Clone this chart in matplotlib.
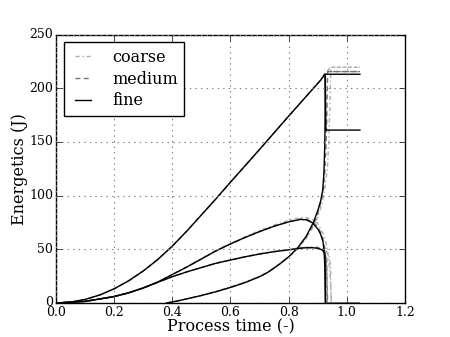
import matplotlib
matplotlib.use('Agg')
import matplotlib.pyplot as plt

# --- donnees (temps adimensionnel, energie en J) ---
# courbe 1 : energie totale
t_tot_fine = [0, 0.05, 0.1, 0.15, 0.2, 0.25, 0.3, 0.35, 0.4, 0.45, 0.5, 0.55, 0.6, 0.7, 0.8, 0.9, 0.91, 0.918, 0.922, 0.926, 1.045]
e_tot_fine = [0, 0.8, 3.3, 7.4, 13.2, 20.7, 29.8, 40.5, 53, 67, 82, 97, 112.5, 143, 174, 204.5, 207.5, 210.5, 212.5, 213, 213]
t_tot_medium = [0, 0.05, 0.1, 0.15, 0.2, 0.25, 0.3, 0.35, 0.4, 0.45, 0.5, 0.55, 0.6, 0.7, 0.8, 0.9, 0.91, 0.918, 0.924, 0.932, 1.045]
e_tot_medium = [0, 0.8, 3.3, 7.4, 13.2, 20.7, 29.8, 40.5, 53, 67, 82, 97, 112.5, 143, 174, 204.5, 207.5, 210.5, 213, 215.5, 215.5]
t_tot_coarse = [0, 0.05, 0.1, 0.15, 0.2, 0.25, 0.3, 0.35, 0.4, 0.45, 0.5, 0.55, 0.6, 0.7, 0.8, 0.9, 0.91, 0.918, 0.926, 0.944, 1.045]
e_tot_coarse = [0, 0.8, 3.3, 7.4, 13.2, 20.7, 29.8, 40.5, 53, 67, 82, 97, 112.5, 143, 174, 204.5, 207.5, 210.5, 214, 219.5, 219.5]

# courbe 2 : bosse haute (pic ~78 J)
t_c2_fine = [0, 0.1, 0.2, 0.25, 0.3, 0.35, 0.4, 0.45, 0.5, 0.55, 0.6, 0.65, 0.7, 0.75, 0.8, 0.84, 0.86, 0.88, 0.9, 0.91, 0.918, 0.922, 0.925, 0.927]
e_c2_fine = [0, 1.5, 6, 9.5, 14, 19.5, 26.5, 33.5, 41, 48.5, 55, 61, 66.5, 71.5, 75.5, 77.8, 77.5, 75, 69, 64, 57, 48, 30, 0]
t_c2_medium = [0, 0.1, 0.2, 0.25, 0.3, 0.35, 0.4, 0.45, 0.5, 0.55, 0.6, 0.65, 0.7, 0.75, 0.8, 0.84, 0.86, 0.88, 0.9, 0.915, 0.924, 0.929, 0.932, 0.934, 1.045]
e_c2_medium = [0, 1.5, 6, 9.5, 14, 19.5, 26.5, 33.5, 41, 48.5, 55, 61, 66.5, 71.5, 75.8, 78.2, 78, 76, 71, 63, 52, 38, 18, 0, 0]
t_c2_coarse = [0, 0.1, 0.2, 0.25, 0.3, 0.35, 0.4, 0.45, 0.5, 0.55, 0.6, 0.65, 0.7, 0.75, 0.8, 0.84, 0.86, 0.88, 0.9, 0.92, 0.932, 0.939, 0.944, 0.947, 1.045]
e_c2_coarse = [0, 1.5, 6, 9.5, 14, 19.5, 26.8, 34, 41.5, 49, 55.5, 61.5, 67.5, 72.5, 77, 79.5, 79.5, 78, 74, 64, 52, 38, 18, 0, 0]

# courbe 3 : bosse basse (pic ~51 J)
t_c3_fine = [0, 0.1, 0.2, 0.25, 0.3, 0.35, 0.4, 0.45, 0.5, 0.55, 0.6, 0.65, 0.7, 0.75, 0.8, 0.85, 0.88, 0.9, 0.915, 0.922, 0.925, 0.926]
e_c3_fine = [0, 1.5, 6, 9.5, 14, 19.3, 24.5, 29, 33, 37, 40, 43, 45.6, 47.8, 49.5, 51.3, 51.5, 51, 49.5, 47, 44, 0]
t_c3_medium = [0, 0.1, 0.2, 0.25, 0.3, 0.35, 0.4, 0.45, 0.5, 0.55, 0.6, 0.65, 0.7, 0.75, 0.8, 0.85, 0.88, 0.9, 0.92, 0.928, 0.931, 0.932, 1.045]
e_c3_medium = [0, 1.5, 6, 9.5, 14, 19.3, 24.5, 29, 33, 37, 40, 43, 45.6, 47.8, 49.6, 51.4, 51.7, 51.3, 49.5, 46, 40, 0, 0]
t_c3_coarse = [0, 0.1, 0.2, 0.25, 0.3, 0.35, 0.4, 0.45, 0.5, 0.55, 0.6, 0.65, 0.7, 0.75, 0.8, 0.85, 0.88, 0.9, 0.925, 0.938, 0.944, 0.946, 1.045]
e_c3_coarse = [0, 1.5, 6, 9.5, 14, 19.3, 24.5, 29, 33, 37, 40.2, 43.2, 45.8, 48, 50, 51.8, 52.2, 51.8, 50, 45, 35, 0, 0]

# courbe 4 : energie qui monte a partir de t~0.38
t_c4_fine = [0.38, 0.42, 0.5, 0.55, 0.6, 0.65, 0.7, 0.725, 0.75, 0.775, 0.8, 0.83, 0.86, 0.885, 0.9, 0.91, 0.917, 0.921, 0.924, 0.925, 0.926, 0.928, 1.045]
e_c4_fine = [0, 2, 7, 10.5, 14.5, 19, 24.5, 28, 32.5, 37.5, 43, 51, 62, 75, 86, 95, 105, 120, 145, 165, 213, 161, 161]
t_c4_medium = [0.38, 0.42, 0.5, 0.55, 0.6, 0.65, 0.7, 0.725, 0.75, 0.775, 0.8, 0.83, 0.86, 0.885, 0.9, 0.912, 0.92, 0.925, 0.929, 0.932, 0.934, 1.045]
e_c4_medium = [0, 2, 7, 10.5, 14.5, 19, 24.5, 28, 32.5, 37.5, 43, 50.5, 61, 73, 83, 95, 108, 125, 150, 185, 215.5, 215.5]
t_c4_coarse = [0.38, 0.42, 0.5, 0.55, 0.6, 0.65, 0.7, 0.725, 0.75, 0.775, 0.8, 0.83, 0.86, 0.885, 0.9, 0.915, 0.925, 0.933, 0.938, 0.942, 0.945, 1.045]
e_c4_coarse = [0, 2, 7, 10.8, 15, 19.5, 25, 28.5, 33, 38, 43, 50, 60, 71, 80, 93, 108, 125, 150, 185, 219.5, 219.5]

series = [
    ('coarse', dict(color='0.68', linestyle=(0, (3, 2, 1, 2))),
     [(t_tot_coarse, e_tot_coarse), (t_c2_coarse, e_c2_coarse),
      (t_c3_coarse, e_c3_coarse), (t_c4_coarse, e_c4_coarse)]),
    ('medium', dict(color='0.45', linestyle=(0, (3.5, 2.5))),
     [(t_tot_medium, e_tot_medium), (t_c2_medium, e_c2_medium),
      (t_c3_medium, e_c3_medium), (t_c4_medium, e_c4_medium)]),
    ('fine', dict(color='black', linestyle='-'),
     [(t_tot_fine, e_tot_fine), (t_c2_fine, e_c2_fine),
      (t_c3_fine, e_c3_fine), (t_c4_fine, e_c4_fine)]),
]

plt.style.use('classic')
plt.rcParams['font.family'] = ['DejaVu Serif']

fig = plt.figure(figsize=(4.5, 3.37), dpi=100)
ax = fig.add_axes([0.1244, 0.1009, 0.7756, 0.7967])

for name, style, curves in series:
    for i, (t, e) in enumerate(curves):
        ax.plot(t, e, linewidth=1.0, label=name if i == 0 else None, **style)

ax.set_xlim(0, 1.2)
ax.set_ylim(0, 250)
ax.set_xticks([0.0, 0.2, 0.4, 0.6, 0.8, 1.0, 1.2])
ax.set_yticks([0, 50, 100, 150, 200, 250])
ax.tick_params(labelsize=9, pad=2)
ax.grid(True, color='0.5', linestyle=':', linewidth=0.8)
ax.set_xlabel('Process time (-)', fontsize=11.5, labelpad=0)
ax.set_ylabel('Energetics (J)', fontsize=11.5, labelpad=1)
ax.legend(loc='upper left', fontsize=11.5, frameon=True, handlelength=1.6,
          handletextpad=1.0, labelspacing=0.3, borderpad=0.4)

fig.savefig('out.png', dpi=100)
